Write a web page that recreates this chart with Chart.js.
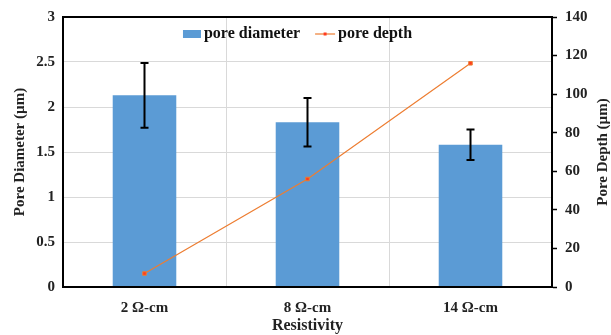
<!DOCTYPE html>
<html>
<head>
<meta charset="utf-8">
<script src="https://cdn.jsdelivr.net/npm/chart.js@4"></script>
<style>
  html, body { margin: 0; padding: 0; background: #fff; }
  #wrap { width: 611px; height: 335px; }
</style>
</head>
<body>
<div id="wrap"><canvas id="chart"></canvas></div>
<script>
// Data
const categories = ['2 Ω-cm', '8 Ω-cm', '14 Ω-cm'];
const poreDiameter = [2.13, 1.83, 1.58];
const diameterError = [0.36, 0.27, 0.17];
const poreDepth = [7, 56, 116];
const diameterTicks = [0, 0.5, 1, 1.5, 2, 2.5, 3];
const depthTicks = [0, 20, 40, 60, 80, 100, 120, 140];

const SERIF = '"Liberation Serif", "Times New Roman", serif';
const BLUE = '#5B9BD5';
const ORANGE = '#ED7D31';

// Error bars on the diameter bars
const errorBars = {
    id: 'errorBars',
    afterDatasetsDraw(chart) {
        const meta = chart.getDatasetMeta(1);
        const y = chart.scales.y;
        const ctx = chart.ctx;
        ctx.save();
        ctx.strokeStyle = '#000';
        ctx.lineWidth = 2;
        meta.data.forEach((bar, i) => {
            const top = y.getPixelForValue(poreDiameter[i] + diameterError[i]);
            const bot = y.getPixelForValue(poreDiameter[i] - diameterError[i]);
            ctx.beginPath();
            ctx.moveTo(bar.x, top); ctx.lineTo(bar.x, bot);
            ctx.moveTo(bar.x - 4, top); ctx.lineTo(bar.x + 4, top);
            ctx.moveTo(bar.x - 4, bot); ctx.lineTo(bar.x + 4, bot);
            ctx.stroke();
        });
        ctx.restore();
    }
};

// Frame round the plot area, legend inside it, right axis title
const frameAndLegend = {
    id: 'frameAndLegend',
    afterDraw(chart) {
        const { ctx, chartArea } = chart;
        ctx.save();
        ctx.strokeStyle = '#000';
        ctx.lineWidth = 2;
        ctx.strokeRect(chartArea.left, chartArea.top, chartArea.right - chartArea.left, chartArea.bottom - chartArea.top);

        ctx.font = 'bold 16px ' + SERIF;
        ctx.textBaseline = 'middle';
        ctx.fillStyle = '#111';
        const labels = chart.data.datasets.map(d => d.label);
        const w1 = ctx.measureText(labels[1]).width;
        const w0 = ctx.measureText(labels[0]).width;
        const total = 18 + 3 + w1 + 15 + 20 + 3 + w0;
        let x = (chartArea.left + chartArea.right) / 2 - 10 - total / 2;
        const cy = chartArea.top + 17;
        ctx.fillStyle = BLUE;
        ctx.fillRect(x, cy - 4, 18, 8);
        x += 21;
        ctx.fillStyle = '#111';
        ctx.fillText(labels[1], x, cy);
        x += w1 + 15;
        ctx.strokeStyle = ORANGE;
        ctx.lineWidth = 1.2;
        ctx.beginPath(); ctx.moveTo(x, cy); ctx.lineTo(x + 20, cy); ctx.stroke();
        ctx.fillStyle = '#FF3B1F';
        ctx.fillRect(x + 8.5, cy - 1.5, 3, 3);
        x += 23;
        ctx.fillStyle = '#111';
        ctx.fillText(labels[0], x, cy);

        // right axis title, reading bottom to top like the left one
        ctx.font = 'bold 15px ' + SERIF;
        ctx.textAlign = 'center';
        ctx.fillStyle = '#222';
        ctx.translate(603, (chartArea.top + chartArea.bottom) / 2);
        ctx.rotate(-Math.PI / 2);
        ctx.fillText('Pore Depth (µm)', 0, 0);
        ctx.restore();
    }
};

new Chart(document.getElementById('chart'), {
    type: 'bar',
    data: {
        labels: categories,
        datasets: [{
            type: 'line',
            label: 'pore depth',
            data: poreDepth,
            yAxisID: 'y1',
            borderColor: ORANGE,
            borderWidth: 1.2,
            pointStyle: 'rect',
            pointRadius: 2.5,
            pointBackgroundColor: '#FF3B1F',
            pointBorderColor: ORANGE,
            pointBorderWidth: 1,
            order: 0
        }, {
            label: 'pore diameter',
            data: poreDiameter,
            yAxisID: 'y',
            backgroundColor: BLUE,
            barPercentage: 0.39,
            categoryPercentage: 1,
            order: 1
        }]
    },
    options: {
        responsive: true,
        maintainAspectRatio: false,
        animation: false,
        layout: { padding: { top: 16, left: 0, right: 0, bottom: 0 } },
        plugins: {
            legend: { display: false },
            tooltip: { enabled: false }
        },
        scales: {
            x: {
                offset: true,
                grid: { offset: true, color: '#D9D9D9', drawTicks: false },
                border: { color: '#000', width: 2 },
                ticks: { color: '#222', font: { family: SERIF, size: 15, weight: 'bold' }, padding: 12 },
                title: { display: true, text: 'Resistivity', color: '#222', font: { family: SERIF, size: 16, weight: 'bold' }, padding: { top: 6, bottom: 0 } },
                afterFit(scale) { scale.height = 48; }
            },
            y: {
                position: 'left',
                min: 0, max: 3,
                afterBuildTicks(scale) { scale.ticks = diameterTicks.map(v => ({ value: v })); },
                grid: { color: '#D9D9D9', drawTicks: false },
                border: { color: '#000', width: 2 },
                ticks: { color: '#222', font: { family: SERIF, size: 15, weight: 'bold' }, padding: 8, callback: v => String(v) },
                title: { display: true, text: 'Pore Diameter (µm)', color: '#222', font: { family: SERIF, size: 15, weight: 'bold' }, padding: { top: 11, bottom: 4 } },
                afterFit(scale) { scale.width = 63; }
            },
            y1: {
                position: 'right',
                min: 0, max: 140,
                afterBuildTicks(scale) { scale.ticks = depthTicks.map(v => ({ value: v })); },
                grid: { drawOnChartArea: false, color: '#000', tickLength: 5, tickWidth: 1.5 },
                border: { color: '#000', width: 2 },
                ticks: { color: '#222', font: { family: SERIF, size: 15, weight: 'bold' }, padding: 8, callback: v => String(v) },
                title: { display: false },
                afterFit(scale) { scale.width = 59; }
            }
        }
    },
    plugins: [errorBars, frameAndLegend]
});
</script>
</body>
</html>
